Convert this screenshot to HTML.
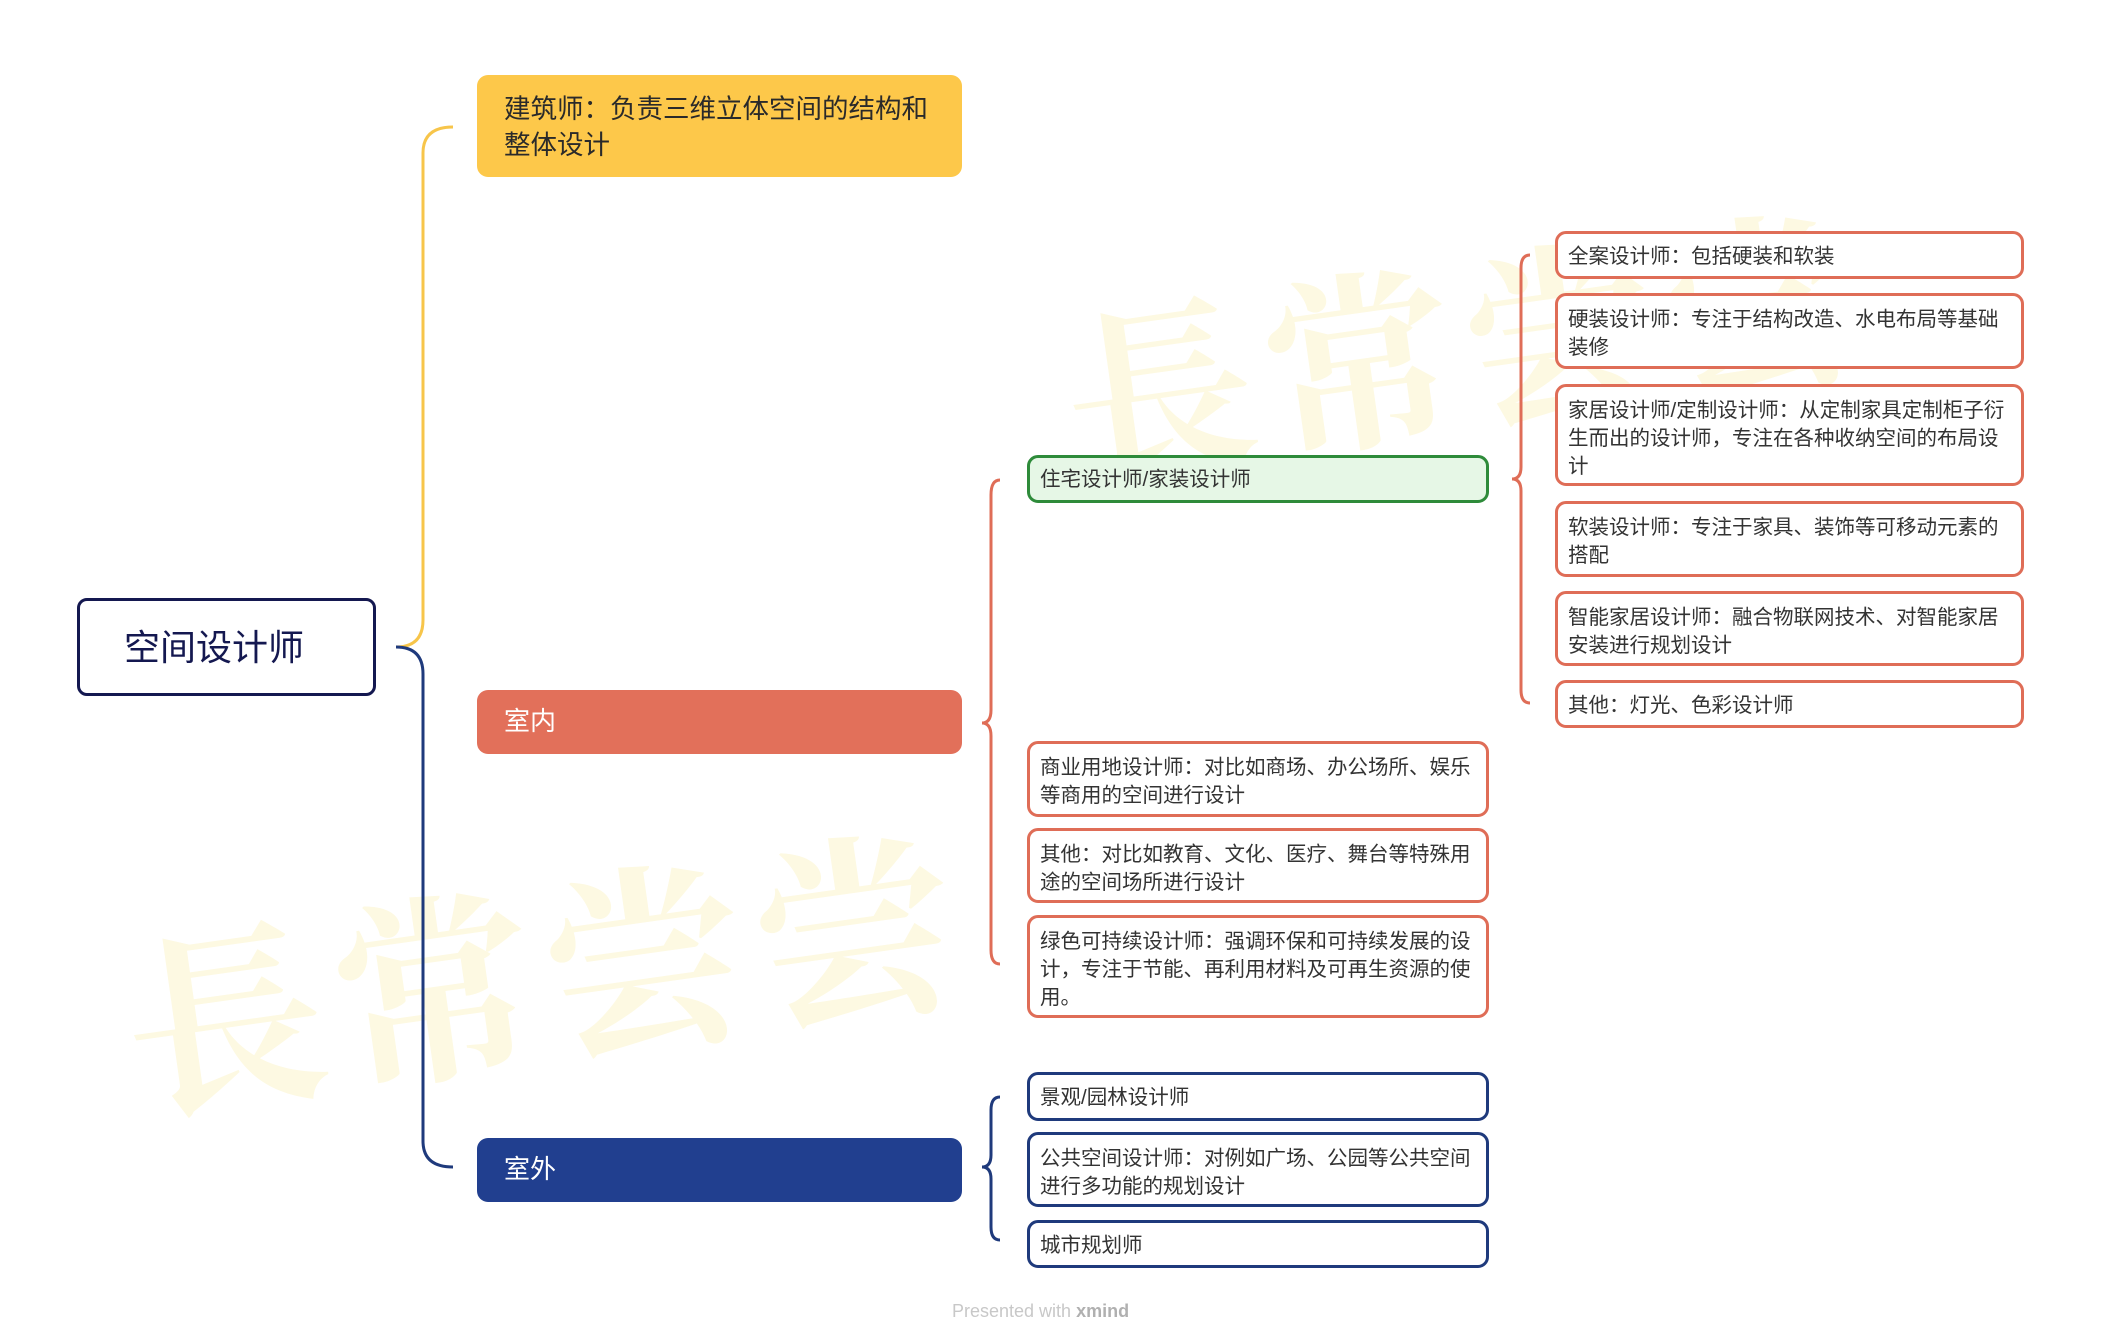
<!DOCTYPE html>
<html><head><meta charset="utf-8"><style>
body{margin:0;width:2101px;height:1344px;background:#fff;position:relative;overflow:hidden;font-family:"Liberation Sans","Noto Sans CJK SC",sans-serif}
.b{position:absolute;box-sizing:border-box;border-radius:11px;color:#333;font-size:20.5px;line-height:28px;padding:8px 10px 0 10px;background:#fff}
.o{border:3px solid #df6d57}
.bl{border:3px solid #1f3a7c}
.wm{position:absolute;color:#fdf9e2;font-weight:bold;font-family:"Noto Serif CJK SC",serif;z-index:0;white-space:nowrap}
svg{position:absolute;left:0;top:0}
</style></head><body>
<div class="wm" style="left:120px;top:820px;font-size:200px;letter-spacing:12px;transform:rotate(-8deg)">長常尝尝</div>
<div class="wm" style="left:1060px;top:200px;font-size:190px;letter-spacing:12px;transform:rotate(-8deg)">長常尝尝</div>
<svg width="2101" height="1344" fill="none" stroke-width="3">
<path d="M396 647 Q423 647 423 620 L423 153 Q423 127 453 127" stroke="#f7c54a"/>
<path d="M396 647 Q423 647 423 674 L423 1141 Q423 1167 453 1167" stroke="#1f3a7c"/>
<path d="M1000 480 Q991 480 991 495 L991 710 Q991 723 982 723 Q991 723 991 736 L991 950 Q991 964 1000 964" stroke="#df6d57"/>
<path d="M1000 1097 Q991 1097 991 1110 L991 1155 Q991 1167 982 1167 Q991 1167 991 1179 L991 1227 Q991 1240 1000 1240" stroke="#1f3a7c"/>
<path d="M1530 255 Q1521 255 1521 268 L1521 467 Q1521 479 1512 479 Q1521 479 1521 491 L1521 690 Q1521 703 1530 703" stroke="#df6d57"/>
</svg>
<div class="b" style="left:77px;top:598px;width:299px;height:98px;border:3.5px solid #141850;border-radius:10px;font-size:36px;color:#141850;padding:29px 0 0 44px;line-height:36px">空间设计师</div>
<div class="b" style="left:477px;top:75px;width:485px;height:102px;background:#fdc84a;font-size:26.5px;line-height:36px;padding:16px 0 0 27px;color:#2a2a2a">建筑师：负责三维立体空间的结构和<br>整体设计</div>
<div class="b" style="left:477px;top:690px;width:485px;height:64px;background:#e2705a;color:#fff;font-size:26px;padding:17px 0 0 27px">室内</div>
<div class="b" style="left:477px;top:1138px;width:485px;height:64px;background:#213f8f;color:#fff;font-size:26px;padding:17px 0 0 27px">室外</div>

<div class="b" style="left:1027px;top:455px;width:462px;height:48px;border:3px solid #2e8b3a;background:#e6f7e6;padding-top:8px">住宅设计师/家装设计师</div>
<div class="b o" style="left:1027px;top:741px;width:462px;height:76px;padding-top:10px">商业用地设计师：对比如商场、办公场所、娱乐等商用的空间进行设计</div>
<div class="b o" style="left:1027px;top:828px;width:462px;height:75px;padding-top:10px">其他：对比如教育、文化、医疗、舞台等特殊用途的空间场所进行设计</div>
<div class="b o" style="left:1027px;top:915px;width:462px;height:103px;padding-top:10px">绿色可持续设计师：强调环保和可持续发展的设计，专注于节能、再利用材料及可再生资源的使用。</div>
<div class="b bl" style="left:1027px;top:1072px;width:462px;height:49px;padding-top:9px">景观/园林设计师</div>
<div class="b bl" style="left:1027px;top:1132px;width:462px;height:75px;padding-top:10px">公共空间设计师：对例如广场、公园等公共空间进行多功能的规划设计</div>
<div class="b bl" style="left:1027px;top:1220px;width:462px;height:48px;padding-top:9px">城市规划师</div>

<div class="b o" style="left:1555px;top:231px;width:469px;height:48px;padding-top:9px">全案设计师：包括硬装和软装</div>
<div class="b o" style="left:1555px;top:293px;width:469px;height:76px;padding-top:10px">硬装设计师：专注于结构改造、水电布局等基础装修</div>
<div class="b o" style="left:1555px;top:384px;width:469px;height:102px;padding-top:10px">家居设计师/定制设计师：从定制家具定制柜子衍生而出的设计师，专注在各种收纳空间的布局设计</div>
<div class="b o" style="left:1555px;top:501px;width:469px;height:76px;padding-top:10px">软装设计师：专注于家具、装饰等可移动元素的搭配</div>
<div class="b o" style="left:1555px;top:591px;width:469px;height:75px;padding-top:10px">智能家居设计师：融合物联网技术、对智能家居安装进行规划设计</div>
<div class="b o" style="left:1555px;top:680px;width:469px;height:48px;padding-top:9px">其他：灯光、色彩设计师</div>

<div style="position:absolute;left:952px;top:1301px;font-size:18px;color:#c8c8c8">Presented with <b style="color:#b0b0b0">xmind</b></div>
</body></html>
